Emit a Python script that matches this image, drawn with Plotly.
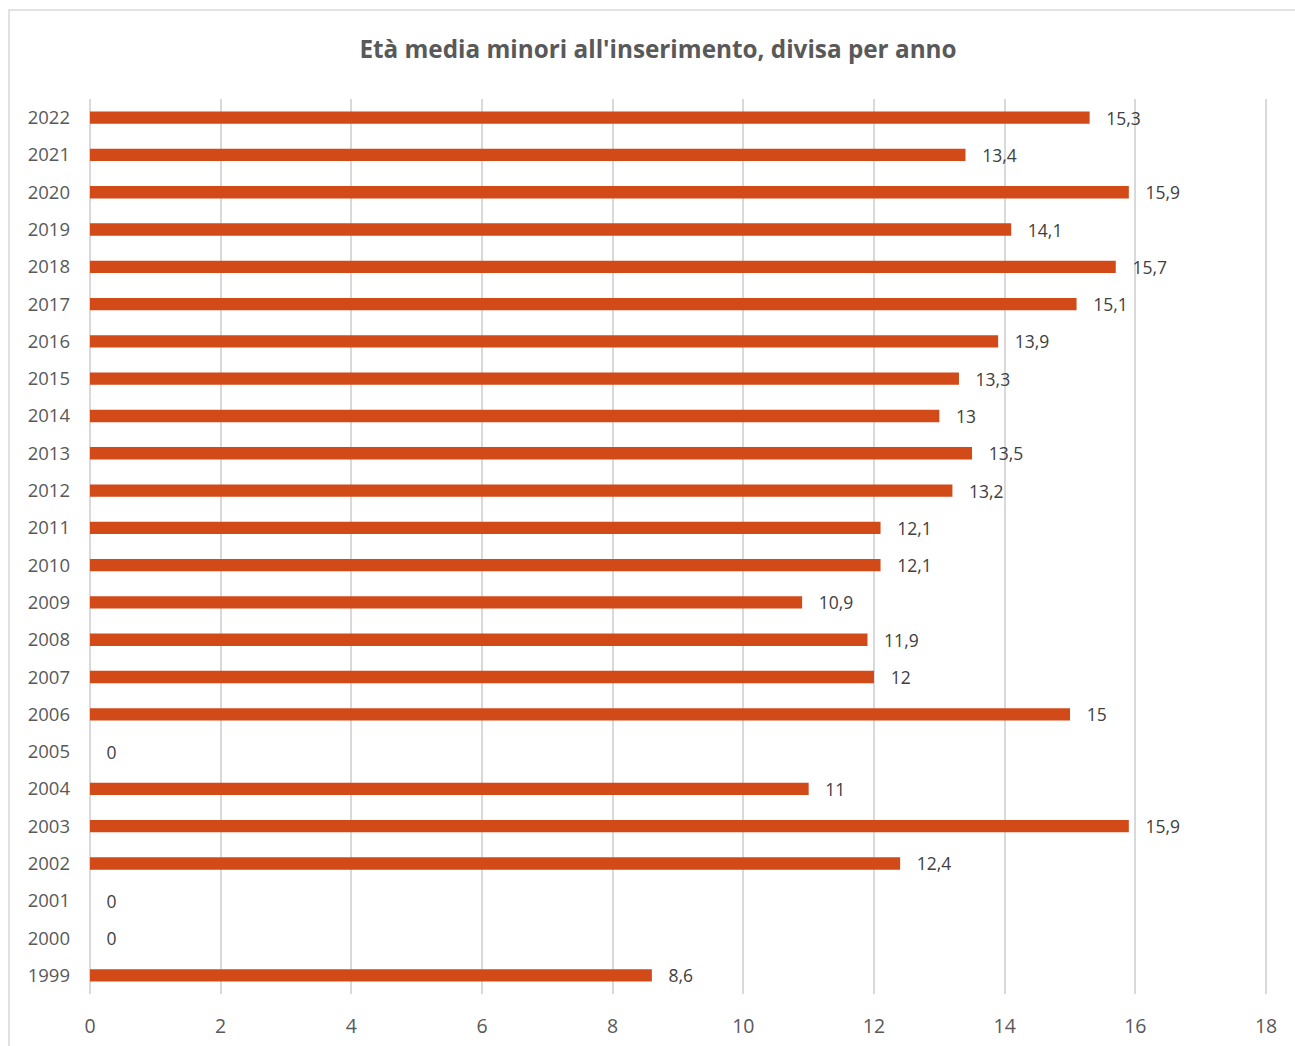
import plotly.graph_objects as go

years = [str(y) for y in range(1999, 2023)]
values = [8.6, 0, 0, 12.4, 15.9, 11, 0, 15, 12, 11.9, 10.9, 12.1, 12.1, 13.2,
          13.5, 13, 13.3, 13.9, 15.1, 15.7, 14.1, 15.9, 13.4, 15.3]
x_ticks = [0, 2, 4, 6, 8, 10, 12, 14, 16, 18]
title_text = "Età media minori all'inserimento, divisa per anno"

W, H = 1295, 1046
L, R, T, B = 88, 27, 99, 52

fig = go.Figure()
fig.add_trace(go.Bar(
    y=years, x=values, orientation="h",
    marker=dict(color="#D24A18", line=dict(width=0)),
    width=0.33,
    text=values, texttemplate="\u00a0\u00a0\u00a0%{x}", textposition="outside",
    constraintext="none",
    textfont=dict(family="Open Sans", size=17.5, color="#404040"),
    cliponaxis=False,
))

pw = W - L - R
ph = H - T - B
fig.add_shape(type="rect", xref="paper", yref="paper",
              x0=(9 - L) / pw, x1=1 + 40 / pw,
              y0=-(60) / ph, y1=1 + (T - 10) / ph,
              line=dict(color="#D9D9D9", width=1.5), layer="below")

fig.update_layout(
    width=W, height=H,
    margin=dict(l=L, r=R, t=T, b=B),
    paper_bgcolor="white", plot_bgcolor="white",
    separators=",.",
    bargap=0.67,
    showlegend=False,
    title=dict(text="<b>" + title_text + "</b>", x=658 / W, xanchor="center",
               y=1 - 49 / H, yanchor="middle", xref="container", yref="container",
               font=dict(family="Open Sans", size=24.3, color="#595959")),
    xaxis=dict(range=[-0.03, 18.03], tickvals=x_ticks, ticktext=[str(t) for t in x_ticks],
               showgrid=True, gridcolor="#D9D9D9", gridwidth=1.5,
               zeroline=False, showline=False, ticks="", automargin=False,
               tickfont=dict(family="Open Sans", size=19.5, color="#595959"),
               ticklabelstandoff=18),
    yaxis=dict(categoryorder="array", categoryarray=years, automargin=False,
               showgrid=False, zeroline=False, showline=False, ticks="",
               tickfont=dict(family="Open Sans", size=18.5, color="#595959"),
               ticklabelstandoff=17),
)

fig.write_html("out.html")
